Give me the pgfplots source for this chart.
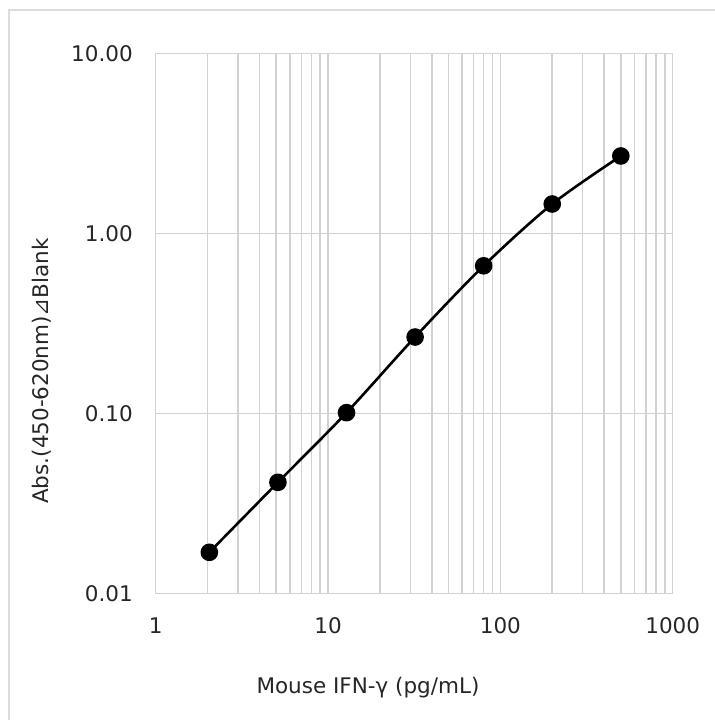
\documentclass[border=0pt]{standalone}
\usepackage{pgfplots}
\pgfplotsset{compat=1.18}
\usepackage{fontspec}
\setmainfont{DejaVu Sans}
\definecolor{gridgray}{RGB}{210,210,210}
\definecolor{framegray}{RGB}{220,220,220}
\newcommand{\chartfont}{\fontsize{21.5bp}{25bp}\selectfont}
\begin{document}
\begin{tikzpicture}
\useasboundingbox (-155.7bp,-126.7bp) rectangle (559.3bp,593.3bp);
\draw[framegray, line width=1.2bp] (-146.7bp,-126.7bp) -- (-146.7bp,583.3bp) -- (559.3bp,583.3bp);
\begin{axis}[
    scale only axis, width=517bp, height=539.6bp,
    xmode=log, ymode=log,
    xmin=1, xmax=1000, ymin=0.01, ymax=10,
    xtick={1,10,100,1000}, xticklabels={1,10,100,1000},
    ytick={0.01,0.1,1,10}, yticklabels={0.01,0.10,1.00,10.00},
    minor xtick={2,3,4,5,6,7,8,9,20,30,40,50,60,70,80,90,200,300,400,500,600,700,800,900},
    minor ytick={},
    xmajorgrids=true, xminorgrids=true, ymajorgrids=true, yminorgrids=false,
    major tick length=0pt, minor tick length=0pt,
    axis line style={gridgray, line width=1.5bp},
    grid style={gridgray, line width=1.5bp},
    minor grid style={gridgray, line width=1.5bp},
    tick label style={font=\chartfont, inner sep=0pt, text=black!85},
    yticklabel style={anchor=east, xshift=-22.7bp},
    xticklabel style={anchor=center, yshift=-32.7bp},
    label style={font=\chartfont, inner sep=0pt, text=black!85},
    xlabel={Mouse IFN-γ (pg/mL)},
    xlabel style={at={(axis description cs:0.4106,-0.1755)}, anchor=center},
    ylabel={Abs.(450-620nm)⊿Blank},
    ylabel style={at={(axis description cs:-0.2199,0.412)}, anchor=center},
]
\addplot[black, line width=2.6bp, smooth, mark=*, mark size=7.5bp,
    mark options={solid, fill=black}] coordinates {
    (2.048,0.0169) (5.12,0.0414) (12.8,0.101) (32,0.266) (80,0.662) (200,1.46) (500,2.70)
};
\end{axis}
\end{tikzpicture}
\end{document}
